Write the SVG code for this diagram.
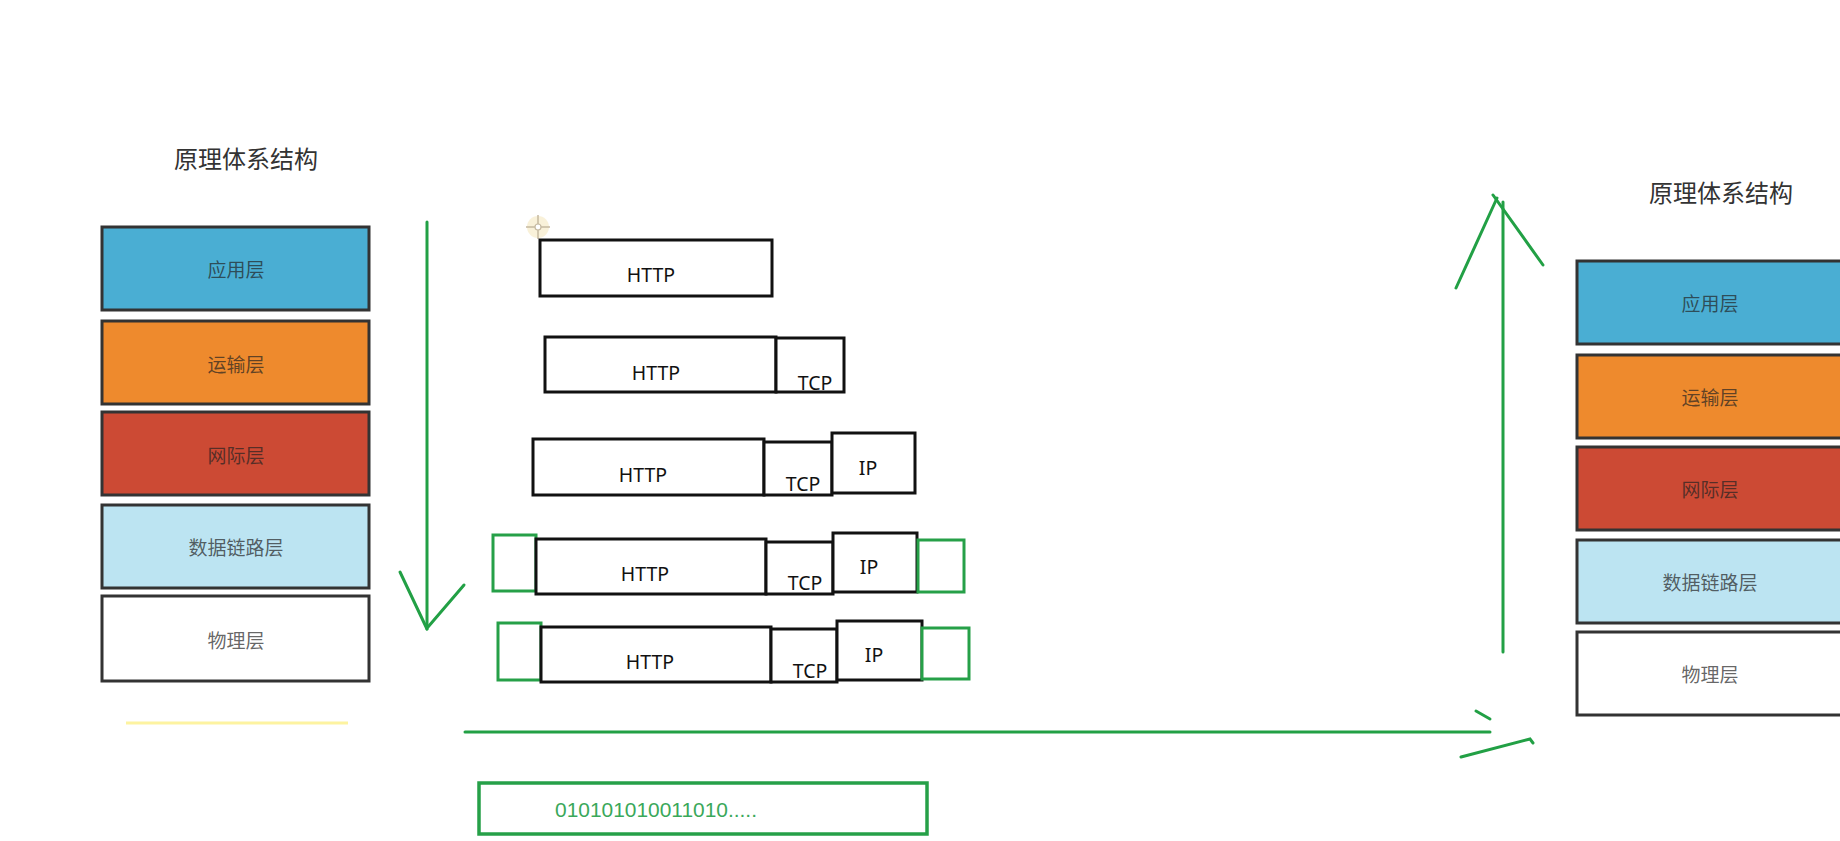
<svg xmlns="http://www.w3.org/2000/svg" width="1840" height="841" viewBox="0 0 1840 841">
<style>
.title{font-family:"Noto Sans CJK SC","Noto Sans",sans-serif;font-size:24px;fill:#333;text-anchor:middle;dominant-baseline:central}
.layer rect{stroke:#333;stroke-width:3}
.layer text{font-family:"Noto Sans CJK SC","Noto Sans",sans-serif;font-size:19px;fill:#222;fill-opacity:0.7;text-anchor:middle;dominant-baseline:central}
.pk{fill:#fff;stroke:#111;stroke-width:3}
.gb{fill:#fff;stroke:#26a048;stroke-width:3}
.pt{font-family:"Noto Sans","Liberation Sans",sans-serif;font-size:19.5px;fill:#111;text-anchor:middle;dominant-baseline:central}
.conn line,.conn polyline{stroke:#22a045;stroke-width:3;fill:none;stroke-linecap:round}
</style>
<rect width="1840" height="841" fill="#fff"/>

<text class="title" x="246" y="157">原理体系结构</text>
<text class="title" x="1721" y="191">原理体系结构</text>

<g id="left-stack">
<g id="l-app" class="layer"><rect x="102" y="227" width="267" height="83" fill="#4aaed3"/><text x="236" y="268">应用层</text></g>
<g id="l-trans" class="layer"><rect x="102" y="321" width="267" height="83" fill="#ee8a2d"/><text x="236" y="363">运输层</text></g>
<g id="l-net" class="layer"><rect x="102" y="412" width="267" height="83" fill="#cc4a34"/><text x="236" y="454">网际层</text></g>
<g id="l-link" class="layer"><rect x="102" y="505" width="267" height="83" fill="#bce4f2"/><text x="236" y="546">数据链路层</text></g>
<g id="l-phy" class="layer"><rect x="102" y="596" width="267" height="85" fill="#fff"/><text x="236" y="639">物理层</text></g>
</g>

<g id="right-stack">
<g id="r-app" class="layer"><rect x="1577" y="261" width="267" height="83" fill="#4aaed3"/><text x="1710" y="302">应用层</text></g>
<g id="r-trans" class="layer"><rect x="1577" y="355" width="267" height="83" fill="#ee8a2d"/><text x="1710" y="396">运输层</text></g>
<g id="r-net" class="layer"><rect x="1577" y="447" width="267" height="83" fill="#cc4a34"/><text x="1710" y="488">网际层</text></g>
<g id="r-link" class="layer"><rect x="1577" y="540" width="267" height="83" fill="#bce4f2"/><text x="1710" y="581">数据链路层</text></g>
<g id="r-phy" class="layer"><rect x="1577" y="632" width="267" height="83" fill="#fff"/><text x="1710" y="673">物理层</text></g>
</g>

<line x1="126" y1="723" x2="348" y2="723" stroke="#fdf3a0" stroke-width="3"/>

<g id="cursor" opacity="0.8">
<circle cx="538" cy="227" r="11" fill="#f3e3b0" opacity="0.6"/>
<line x1="526" y1="227" x2="550" y2="227" stroke="#b8a98a" stroke-width="1.5"/>
<line x1="538" y1="215" x2="538" y2="239" stroke="#b8a98a" stroke-width="1.5"/>
<circle cx="538" cy="227" r="3" fill="#fff" stroke="#b8a98a" stroke-width="1.2"/>
</g>

<g id="pkt1">
<rect class="pk" x="540" y="240" width="232" height="56"/><text class="pt" x="651" y="274">HTTP</text>
</g>
<g id="pkt2">
<rect class="pk" x="545" y="337" width="231" height="55"/><text class="pt" x="656" y="372">HTTP</text>
<rect class="pk" x="776" y="338" width="68" height="54"/><text class="pt" x="815" y="382">TCP</text>
</g>
<g id="pkt3">
<rect class="pk" x="533" y="439" width="231" height="56"/><text class="pt" x="643" y="474">HTTP</text>
<rect class="pk" x="764" y="442" width="68" height="53"/><text class="pt" x="803" y="483">TCP</text>
<rect class="pk" x="832" y="433" width="83" height="60"/><text class="pt" x="868" y="467">IP</text>
</g>
<g id="pkt4">
<rect class="gb" x="493" y="535" width="43" height="56"/>
<rect class="pk" x="536" y="539" width="230" height="55"/><text class="pt" x="645" y="573">HTTP</text>
<rect class="pk" x="766" y="542" width="67" height="52"/><text class="pt" x="805" y="582">TCP</text>
<rect class="pk" x="833" y="533" width="84" height="59"/><text class="pt" x="869" y="566">IP</text>
<rect class="gb" x="918" y="540" width="46" height="52"/>
</g>
<g id="pkt5">
<rect class="gb" x="498" y="623" width="43" height="57"/>
<rect class="pk" x="541" y="627" width="230" height="55"/><text class="pt" x="650" y="661">HTTP</text>
<rect class="pk" x="771" y="629" width="66" height="53"/><text class="pt" x="810" y="670">TCP</text>
<rect class="pk" x="837" y="621" width="85" height="59"/><text class="pt" x="874" y="654">IP</text>
<rect class="gb" x="922" y="628" width="47" height="51"/>
</g>

<g id="bits">
<rect x="479" y="783" width="448" height="51" fill="#fff" stroke="#26a048" stroke-width="3.5"/>
<text x="555" y="810" font-family="Liberation Sans, sans-serif" font-size="20" fill="#3aa85a" dominant-baseline="central" textLength="202" lengthAdjust="spacingAndGlyphs">010101010011010.....</text>
</g>

<g id="connectors" class="conn">
<line x1="427" y1="222" x2="427" y2="629"/>
<line x1="400" y1="572" x2="427" y2="629"/>
<line x1="464" y1="585" x2="428" y2="627"/>
<line x1="1503" y1="652" x2="1503" y2="202"/>
<line x1="1456" y1="288" x2="1497" y2="198"/>
<line x1="1493" y1="195" x2="1543" y2="265"/>
<line x1="465" y1="732" x2="1490" y2="732"/>
<line x1="1476" y1="711" x2="1490" y2="719"/>
<polyline points="1461,757 1530,739 1533,743"/>
</g>
</svg>
